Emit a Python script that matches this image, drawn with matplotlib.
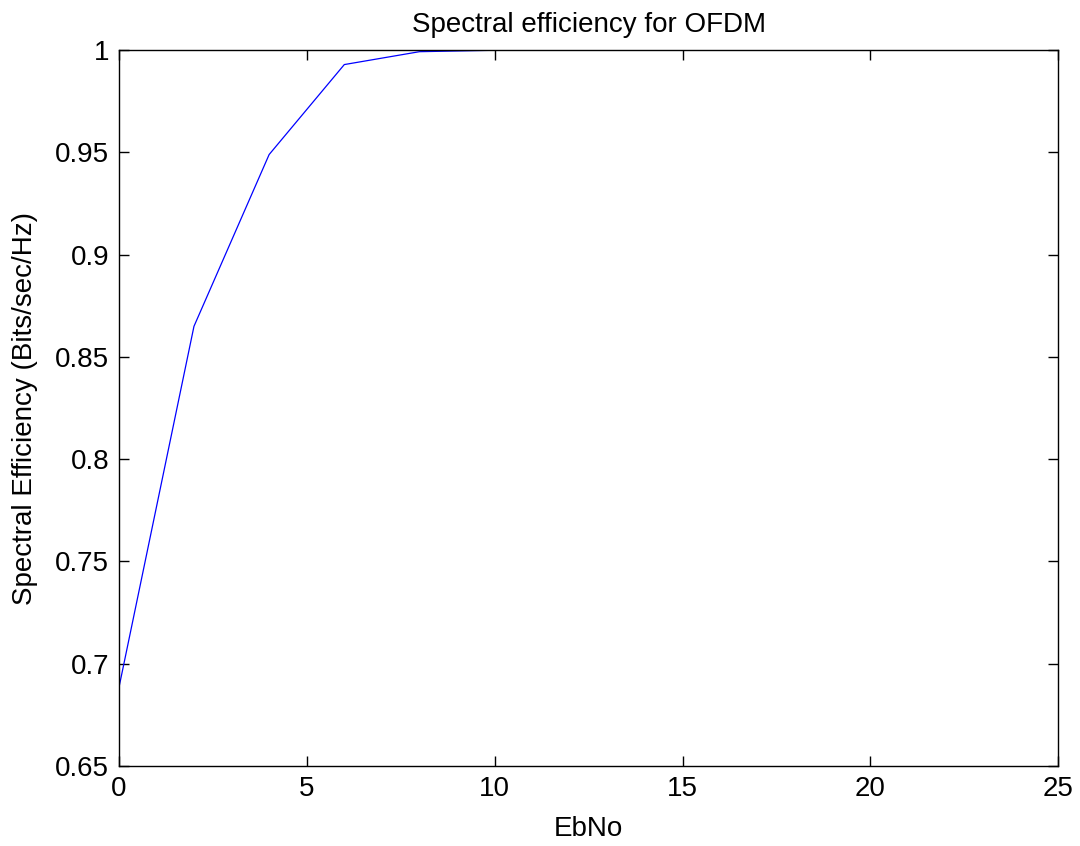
import matplotlib
matplotlib.use('Agg')
import matplotlib.pyplot as plt
import numpy as np

plt.rcParams['font.family'] = ['Liberation Sans', 'DejaVu Sans']

# EbNo (dB) and spectral efficiency
ebno = [0, 2, 4, 6, 8, 10, 12, 14, 16, 18, 20, 22, 24]
eff = [0.688, 0.865, 0.949, 0.993, 0.9993, 1.0, 1.0, 1.0, 1.0, 1.0, 1.0, 1.0, 1.0]

f = plt.figure(figsize=(10.8, 8.46), dpi=100)
ax = f.add_axes([0.110, 0.0946, 0.870, 0.846])

ax.plot(ebno, eff, color='blue', lw=0.9)

ax.set_xlim(0, 25)
ax.set_ylim(0.65, 1.0)
ax.set_xticks([0, 5, 10, 15, 20, 25])
ax.set_yticks([0.65, 0.7, 0.75, 0.8, 0.85, 0.9, 0.95, 1.0])
ax.set_yticklabels(['0.65', '0.7', '0.75', '0.8', '0.85', '0.9', '0.95', '1'])
ax.tick_params(direction='in', top=True, right=True, length=7, width=1,
               labelsize=20, pad=7)
for s in ax.spines.values():
    s.set_linewidth(1)

ax.set_xlabel('EbNo', fontsize=20, labelpad=10)
ax.set_ylabel('Spectral Efficiency (Bits/sec/Hz)', fontsize=20, labelpad=12)
ax.set_title('Spectral efficiency for OFDM', fontsize=20, pad=13)

plt.savefig('out.png', dpi=100)
